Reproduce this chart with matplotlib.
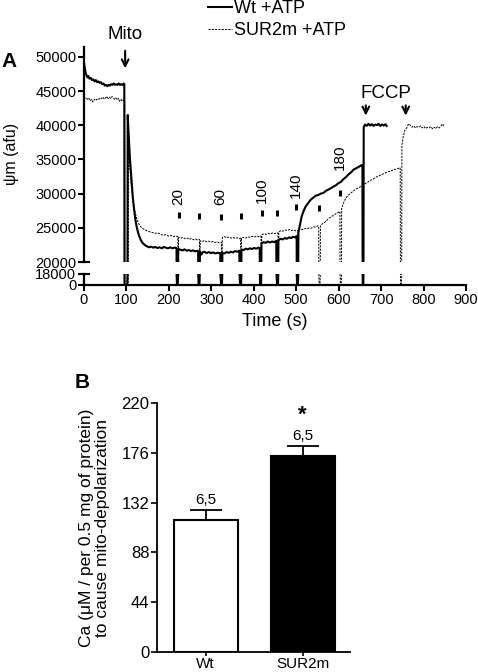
import numpy as np
import matplotlib
matplotlib.use('Agg')
import matplotlib.pyplot as plt

plt.rcParams['font.family'] = ['Liberation Sans', 'DejaVu Sans']

# panel A traces, (time s, fluorescence afu)
wt_trace = [
    (0, 49200), (2, 48300), (4, 47600), (6, 47300), (8, 47000), (10, 47200), (13, 46800), (16, 46900),
    (19, 46600), (22, 46700), (25, 46400), (28, 46600), (31, 46300), (34, 46400), (37, 46200), (40, 46300),
    (43, 46000), (46, 46100), (49, 45800), (52, 45900), (55, 45700), (58, 45900), (61, 45800), (64, 46000),
    (67, 45900), (70, 46100), (73, 45900), (76, 46000), (79, 45900), (82, 46100), (85, 45900), (88, 46000),
    (91, 45900), (94, 46100), (95, 46000),
    (95.5, 0), (102, 0), (103, 41500), (105, 39000), (107, 36500), (109, 34500), (111, 32800), (113, 31000),
    (115, 29500), (117, 28200), (119, 27200), (121, 26200), (124, 25200), (127, 24400), (130, 23800),
    (134, 23200), (138, 22800), (143, 22500), (148, 22300), (153, 22150), (158, 22250), (163, 22100),
    (168, 22200), (173, 22050), (178, 22150), (183, 22000), (188, 22200), (193, 22100), (198, 22000),
    (203, 22150), (208, 22000), (213, 22100), (218, 22050),
    (219, 0), (221, 0), (222, 21900), (227, 21800), (232, 21700), (237, 21850), (242, 21650), (247, 21750),
    (252, 21600), (257, 21700), (262, 21550), (267, 21650), (269, 21600),
    (270, 0), (272, 0), (273, 21500), (277, 21100), (279, 21400), (284, 21500), (289, 21300), (294, 21450),
    (299, 21300), (304, 21400), (309, 21250), (314, 21350), (321, 21300),
    (323, 0), (325, 0), (326, 21300), (331, 21250), (336, 21450), (341, 21350), (346, 21500), (351, 21400),
    (356, 21600), (361, 21500), (366, 21650),
    (368, 0), (370, 0), (371, 21800), (376, 21750), (381, 21950), (386, 21850), (391, 22000), (396, 21900),
    (401, 22050), (406, 21950), (411, 22100), (414, 22000),
    (415, 0), (417, 0), (418, 22700), (423, 22900), (428, 22800), (433, 23000), (438, 22850), (443, 23000),
    (448, 22900), (453, 23100),
    (455, 0), (457, 0), (458, 23200), (463, 23400), (468, 23300), (473, 23500), (478, 23400), (483, 23600),
    (488, 23500), (493, 23700), (498, 23600), (501, 23800),
    (502, 0), (504, 0), (505, 24300), (507, 24900), (510, 25800), (513, 26700), (517, 27400), (522, 28100),
    (528, 28600), (534, 29100), (540, 29400), (546, 29700), (552, 29800), (558, 30000), (564, 30100),
    (570, 30400), (576, 30600), (582, 30800), (587, 31000), (593, 31200), (599, 31500), (605, 31700),
    (611, 32100), (617, 32400), (623, 32800), (629, 33100), (635, 33500), (641, 33700), (647, 33900),
    (652, 34100), (656, 34200),
    (657, 0), (658, 0), (659, 39700), (662, 40100), (666, 39900), (670, 40200), (674, 39950), (678, 40150),
    (682, 39900), (686, 40100), (690, 40000), (694, 40200), (698, 39900), (702, 40100), (706, 39950),
    (710, 40150), (713, 39900),
]

sur_trace = [
    (0, 44100), (3, 43900), (6, 44000), (9, 43700), (12, 43900), (15, 43600), (18, 43800), (21, 43400),
    (24, 43700), (27, 43900), (30, 43700), (33, 43900), (36, 43800), (39, 44000), (42, 43900), (45, 44100),
    (48, 43800), (51, 44000), (54, 44200), (57, 43900), (60, 44100), (63, 43900), (66, 44200), (69, 44000),
    (72, 43800), (75, 44000), (78, 43700), (81, 43900), (84, 43500), (87, 43800), (90, 43500), (93, 43700),
    (96, 43600),
    (97, 0), (104, 0), (105, 36000), (108, 34000), (111, 31500), (114, 29800), (117, 28600), (120, 27500),
    (124, 26400), (128, 25700), (133, 25200), (138, 24900), (144, 24700), (150, 24500), (156, 24400),
    (162, 24300), (168, 24200), (174, 24250), (180, 24100), (186, 23900), (192, 24000), (198, 23800),
    (204, 23900), (210, 23700), (216, 23800), (221, 23700),
    (222, 20300), (223, 23600), (228, 23500), (233, 23600), (238, 23400), (243, 23500), (248, 23300),
    (253, 23450), (258, 23250), (263, 23350), (268, 23200), (272, 23300),
    (273, 20300), (274, 23100), (279, 23000), (284, 23150), (289, 22950), (294, 23050), (299, 22900),
    (304, 23000), (309, 22850), (314, 22950), (319, 22800), (324, 22900),
    (325, 20300), (326, 23600), (331, 23700), (336, 23550), (341, 23650), (346, 23500), (351, 23600),
    (356, 23450), (361, 23550), (366, 23400), (369, 23500),
    (370, 20300), (371, 23500), (376, 23600), (381, 23500), (386, 23700), (391, 23600), (396, 23750),
    (401, 23650), (406, 23800), (411, 23700), (417, 23800),
    (418, 20300), (419, 24000), (424, 24150), (429, 24050), (434, 24200), (439, 24100), (444, 24250),
    (449, 24150), (454, 24300), (457, 24200),
    (458, 20300), (459, 24400), (464, 24600), (469, 24500), (474, 24700), (479, 24600), (484, 24750),
    (489, 24600), (494, 24700), (499, 24550), (504, 24650),
    (505, 20300), (506, 24600), (511, 24800), (516, 24750), (521, 24900), (526, 24850), (531, 25000),
    (536, 24950), (541, 25150), (546, 25100), (551, 25300), (553, 25200),
    (554, 0), (556, 0), (557, 25300), (562, 25600), (567, 25800), (572, 26100), (577, 26400), (582, 26600),
    (587, 26800), (592, 27000), (597, 27200), (603, 27400),
    (604, 0), (606, 0), (607, 27800), (610, 28400), (614, 29000), (619, 29500), (625, 29900), (631, 30200),
    (637, 30500), (642, 30700), (648, 30900), (654, 31100), (660, 31400), (667, 31600), (674, 31900),
    (681, 32100), (688, 32400), (695, 32600), (702, 32800), (709, 33000), (716, 33200), (723, 33300),
    (730, 33500), (737, 33600), (745, 33800),
    (746, 0), (748, 0), (749, 37000), (752, 38300), (756, 39300), (760, 39600), (765, 40200), (769, 40000),
    (773, 39700), (777, 39900), (781, 39600), (785, 39800), (789, 39700), (793, 39900), (797, 39600),
    (801, 39800), (805, 39500), (809, 39700), (813, 39600), (817, 39800), (821, 39500), (825, 39700),
    (829, 39500), (833, 39800), (837, 39600), (841, 39900), (845, 40200), (848, 39900), (850, 40000),
]

# Ca additions: small marks and the labelled doses
add_times = [224, 271, 323, 370, 419, 455, 500, 554, 603]
add_levels = [26840, 26690, 26550, 26690, 27130, 27130, 28010, 27860, 30050]
dose_labels = ['20', '60', '100', '140', '180']
dose_times = [223, 322, 418, 500, 603]
dose_levels = [28300, 28300, 28600, 29400, 33400]

# panel B
groups = ['Wt', 'SUR2m']
ca_mean = [116.6, 173.3]
ca_sem = [8.8, 9.1]
n_labels = ['6,5', '6,5']

fig = plt.figure(figsize=(4.78, 6.72), dpi=100)
ax_top = fig.add_axes([0.1757, 0.6101, 0.7992, 0.3199])
ax_bot = fig.add_axes([0.1757, 0.5759, 0.7992, 0.0164])

wt_t, wt_v = zip(*wt_trace)
sur_t, sur_v = zip(*sur_trace)

for ax in (ax_top, ax_bot):
    ax.plot(sur_t, sur_v, color='black', lw=0.7, ls=(0, (2.2, 1.2)))
    ax.plot(wt_t, wt_v, color='black', lw=1.5)
    ax.set_xlim(0, 900)
    for s in ['top', 'right']:
        ax.spines[s].set_visible(False)
    ax.spines['left'].set_linewidth(1.6)
    ax.spines['bottom'].set_linewidth(1.6)
    ax.tick_params(width=1.5, length=4, labelsize=10.5, pad=1.5)

ax_top.set_ylim(20000, 51430)
ax_top.set_yticks([20000, 25000, 30000, 35000, 40000, 45000, 50000])
ax_top.spines['bottom'].set_visible(False)
ax_top.set_xticks([])

ax_bot.set_ylim(0, 18000)
ax_bot.set_yticks([0, 18000])
ax_bot.set_xticks(range(0, 901, 100))

# break caps on the y axis
ax_top.plot([-0.012, 0.012], [0, 0], transform=ax_top.transAxes, color='black', lw=1.5, clip_on=False)
ax_bot.plot([-0.012, 0.012], [1, 1], transform=ax_bot.transAxes, color='black', lw=1.5, clip_on=False)

ax_top.plot(add_times, add_levels, ls='none', marker='|', ms=5, mew=2.2, color='black')
for lab, t, lev in zip(dose_labels, dose_times, dose_levels):
    ax_top.text(t, lev, lab, rotation=90, ha='center', va='bottom', fontsize=11)

arrow = dict(arrowstyle='->', color='black', lw=1.5, mutation_scale=12)
ax_top.annotate('', xy=(97, 47900), xytext=(97, 51300), arrowprops=arrow, annotation_clip=False)
ax_top.text(97, 52000, 'Mito', ha='center', va='bottom', fontsize=13.5, clip_on=False)
ax_top.annotate('', xy=(664, 41000), xytext=(664, 43300), arrowprops=arrow)
ax_top.annotate('', xy=(758, 41000), xytext=(758, 43300), arrowprops=arrow)
ax_top.text(712, 43400, 'FCCP', ha='center', va='bottom', fontsize=13.5)

fig.text(0.025, 0.771, 'ψm (afu)', rotation=90, ha='center', va='center', fontsize=11.5)
fig.text(0.575, 0.521, 'Time (s)', ha='center', va='center', fontsize=13)
fig.text(0.019, 0.908, 'A', ha='center', va='center', fontsize=15, fontweight='bold')

h1, = ax_top.plot([], [], color='black', lw=1.5)
h2, = ax_top.plot([], [], color='black', lw=0.7, ls=(0, (2.2, 1.2)))
fig.legend([h1, h2], ['Wt +ATP', 'SUR2m +ATP'], loc='upper left', bbox_to_anchor=(0.435, 1.0),
           frameon=False, fontsize=13, handlelength=1.35, handletextpad=0.1, labelspacing=0.3,
           borderpad=0, borderaxespad=0)

# panel B
ax_b = fig.add_axes([0.3285, 0.0302, 0.4038, 0.3696])
x = np.arange(len(groups))
ax_b.bar(x, ca_mean, width=0.66, color=['white', 'black'], edgecolor='black', lw=1.5)
ax_b.errorbar(x, ca_mean, yerr=[[0, 0], ca_sem], fmt='none', ecolor='black', elinewidth=1.3,
              capsize=11.5, capthick=1.3)
for xi, m, e, lab in zip(x, ca_mean, ca_sem, n_labels):
    ax_b.text(xi, m + e + 2.5, lab, ha='center', va='bottom', fontsize=11)
ax_b.text(1, 200, '*', ha='center', va='bottom', fontsize=16, fontweight='bold')
ax_b.set_xlim(-0.5, 1.49)
ax_b.set_ylim(0, 220)
ax_b.set_yticks([0, 44, 88, 132, 176, 220])
ax_b.set_xticks(x)
ax_b.set_xticklabels(groups, fontsize=11)
for s in ['top', 'right']:
    ax_b.spines[s].set_visible(False)
ax_b.spines['left'].set_linewidth(1.3)
ax_b.spines['bottom'].set_linewidth(1.3)
ax_b.tick_params(axis='y', width=1.2, length=4, labelsize=12, pad=1.5)
ax_b.tick_params(axis='x', width=1.2, length=3, pad=0.5)

fig.text(0.197, 0.215, 'Ca (μM / per 0.5 mg of protein)\nto cause mito-depolarization', rotation=90,
         ha='center', va='center', fontsize=12.5, linespacing=1.1)
fig.text(0.1715, 0.4315, 'B', ha='center', va='center', fontsize=15, fontweight='bold')

fig.savefig('out.png', dpi=100)
